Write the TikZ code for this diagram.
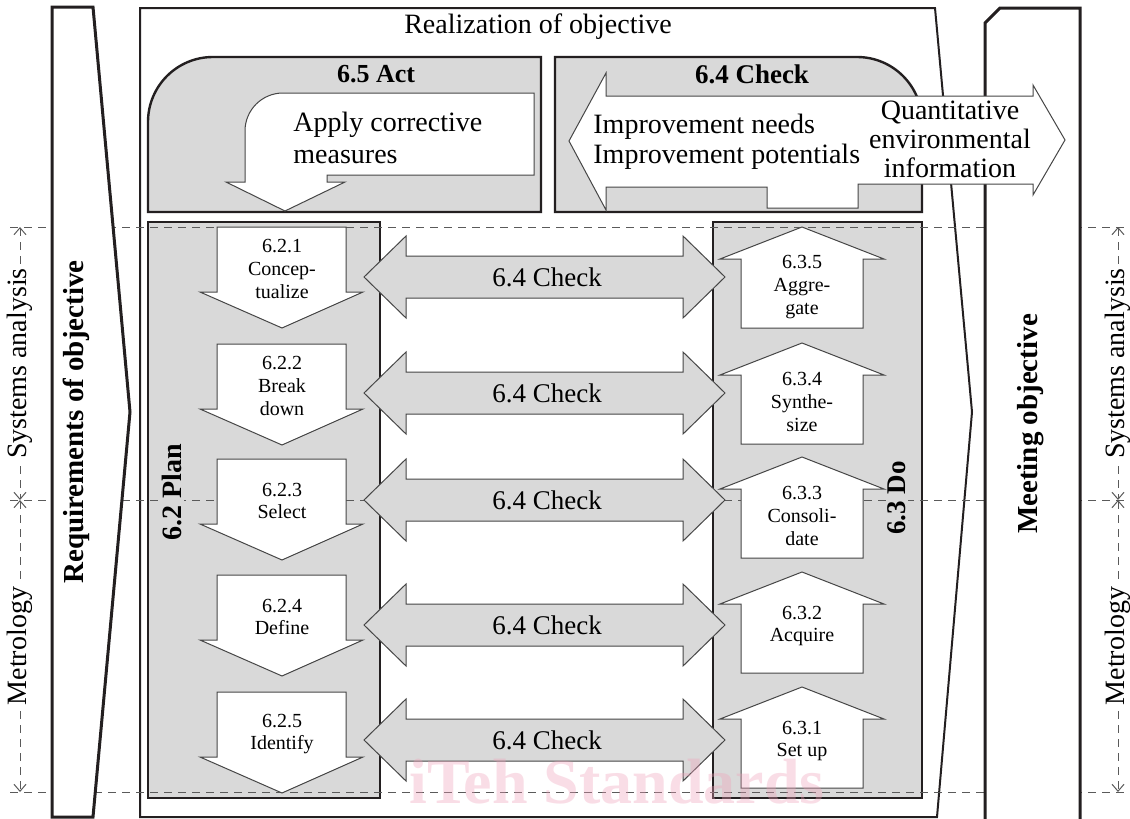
\documentclass[tikz,border=0pt]{standalone}
\usepackage{fontspec}
\setmainfont{Liberation Serif}
\usepackage{xcolor}
\definecolor{boxgrey}{RGB}{217,217,217}
\definecolor{edge}{RGB}{35,31,32}
\definecolor{thinedge}{RGB}{70,70,70}
\definecolor{guidegrey}{RGB}{90,90,90}
\definecolor{stamp}{RGB}{240,160,185}
\usepackage{tikz}
\usetikzlibrary{arrows.meta, calc}
\tikzset{
  frame/.style={draw=edge, line width=1.5pt, fill=white},
  phase/.style={draw=edge, line width=1.2pt, fill=boxgrey},
  stepbox/.style={draw=thinedge, line width=0.5pt, fill=white},
  checkbox/.style={draw=thinedge, line width=0.5pt, fill=boxgrey},
  guide/.style={draw=guidegrey, line width=0.5pt, dash pattern=on 4pt off 3pt},
  dim/.style={guide, {Straight Barb[length=3.5pt,width=6pt]}-{Straight Barb[length=3.5pt,width=6pt]}},
  dimtext/.style={fill=white, inner sep=1pt, rotate=90, font=\fontsize{14}{16}\selectfont},
  steptext/.style={font=\fontsize{10}{11.3}\selectfont, align=center, inner sep=0pt},
  bigtext/.style={font=\fontsize{14}{15}\selectfont, inner sep=0pt},
  title/.style={font=\bfseries\fontsize{13.5}{15}\selectfont, inner sep=0pt}
}

\begin{document}
\begin{tikzpicture}[x=0.5pt, y=-0.5pt]
    \useasboundingbox (0,0) rectangle (1130,819);

    % realization frame
    \draw[frame, line width=1pt] (140,8) -- (935,8) -- (972,412) -- (937,817) -- (140,817) -- cycle;
    \node[bigtext] (realize) at (538,27) {Realization of objective};

    % act, check, plan, do
    \draw[phase] (148,212) -- (148,122) .. controls (148,86) and (177,57) .. (213,57) -- (541,57) -- (541,212) -- cycle;
    \draw[phase] (555,212) -- (555,57) -- (857,57) .. controls (893,57) and (922,86) .. (922,122) -- (922,212) -- cycle;
    \draw[phase] (148,222) rectangle (380,798);
    \draw[phase] (713,222) rectangle (922,798);

    % guide lines
    \foreach \y in {227,500,792}
        \draw[guide] (10,\y) -- (1128,\y);

    \node[title, rotate=90, fill=boxgrey, inner sep=1pt, font=\bfseries\fontsize{14}{15}\selectfont] (plan) at (172,492) {6.2 Plan};
    \node[title, rotate=90, fill=boxgrey, inner sep=1pt] (do) at (897,498) {6.3 Do};

    % side frames
    \draw[frame] (52,7) -- (93,7) -- (130,412) -- (93,817) -- (52,817) -- cycle;
    \node[title, rotate=90, font=\bfseries\fontsize{14.5}{16}\selectfont] (require) at (76,422) {Requirements of objective};
    \draw[frame] (985,819) -- (985,23) -- (1000,8) -- (1080,8) -- (1080,819);
    \node[title, rotate=90, font=\bfseries\fontsize{14.5}{16}\selectfont] (meet) at (1031,424) {Meeting objective};

    % dimensions
    \coordinate (lt) at (20,227);
    \coordinate (lm) at (20,500);
    \coordinate (lb) at (20,792);
    \coordinate (rt) at (1118,227);
    \coordinate (rm) at (1118,500);
    \coordinate (rb) at (1118,792);
    \draw[dim] (lt) -- node[dimtext] {Systems analysis} (lm);
    \draw[dim] (lm) -- node[dimtext] {Metrology} (lb);
    \draw[dim] (rt) -- node[dimtext] {Systems analysis} (rm);
    \draw[dim] (rm) -- node[dimtext] {Metrology} (rb);

    % plan steps
    \foreach \t/\lbl [count=\i] in {227/{6.2.1\\Concep-\\tualize}, 344/{6.2.2\\Break\\down}, 459/{6.2.3\\Select}, 575/{6.2.4\\Define}, 692/{6.2.5\\Identify}} {
        \draw[stepbox] (217,\t) -- (346,\t) -- (346,\t+65) -- (363,\t+65) -- (282,\t+101) -- (200,\t+65) -- (217,\t+65) -- cycle;
        \node[steptext] (plan\i) at (282,\t+42) {\lbl};
    }

    % do steps
    \foreach \t/\c/\lbl [count=\i] in {687/54/{6.3.1\\Set up}, 572/54/{6.3.2\\Acquire}, 457/59/{6.3.3\\Consoli-\\date}, 343/59/{6.3.4\\Synthe-\\size}, 227/60/{6.3.5\\Aggre-\\gate}} {
        \draw[stepbox] (802,\t) -- (884,\t+32) -- (863,\t+32) -- (863,\t+101) -- (741,\t+101) -- (741,\t+32) -- (720,\t+32) -- cycle;
        \node[steptext] (do\i) at (802,\t+\c) {\lbl};
    }

    % check arrows
    \foreach \c [count=\i] in {277,393,500,625,740} {
        \draw[checkbox] (364,\c) -- (406,\c-41) -- (406,\c-21) -- (683,\c-21) -- (683,\c-41) -- (725,\c) -- (683,\c+41) -- (683,\c+21) -- (406,\c+21) -- (406,\c+41) -- cycle;
        \node[bigtext, font=\fontsize{13.5}{15}\selectfont] (check\i) at (547,\c) {6.4 Check};
    }

    % act
    \node[title, font=\bfseries\fontsize{13}{15}\selectfont] (act) at (376,74) {6.5 Act};
    \draw[stepbox] (534,93) -- (283,93) .. controls (262,93) and (245,110) .. (245,131) -- (245,182) -- (226,182) -- (285,211) -- (345,182) -- (327,182) -- (327,175) -- (534,175) -- cycle;
    \node[bigtext, anchor=west, align=left, font=\fontsize{14}{16}\selectfont] (apply) at (293,138) {Apply corrective\\measures};

    % check
    \node[title] (checktop) at (752,74) {6.4 Check};
    \draw[stepbox] (569,141) -- (606,73) -- (606,96) -- (1033,96) -- (1033,85) -- (1065,140) -- (1033,195) -- (1033,184) -- (858,184) -- (858,208) -- (767,208) -- (767,187) -- (606,187) -- (606,210) -- cycle;
    \node[bigtext, anchor=west, align=left] (improve) at (593,142) {Improvement needs\\Improvement potentials};
    \node[bigtext, align=center, font=\fontsize{14}{14.5}\selectfont] (quant) at (950,139) {Quantitative\\environmental\\information};

    % watermark
    \node[anchor=base, text=stamp, opacity=0.35, font=\bfseries\fontsize{32}{34}\selectfont, inner sep=0pt] (stampmark) at (617,803) {iTeh Standards};
\end{tikzpicture}
\end{document}
